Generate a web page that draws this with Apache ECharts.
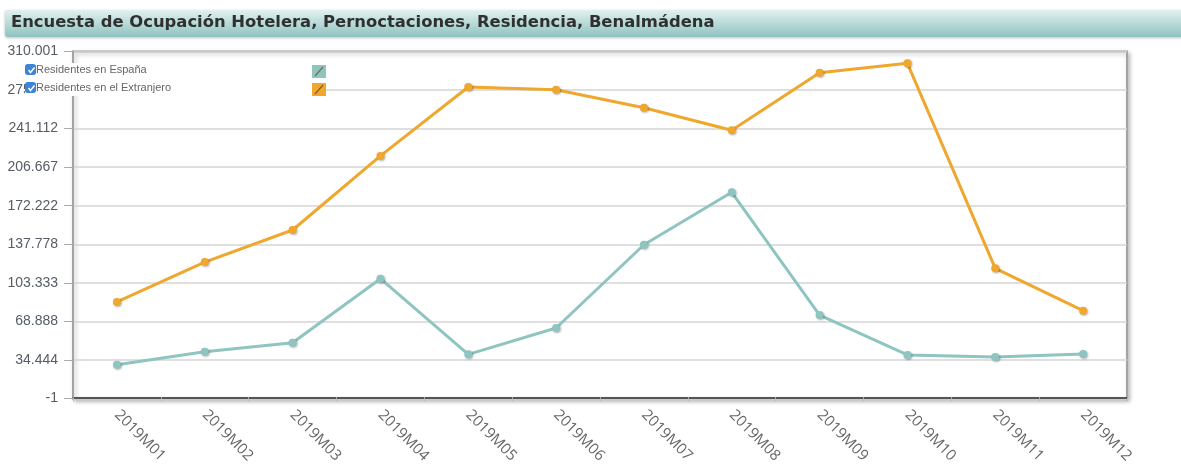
<!DOCTYPE html>
<html>
<head>
<meta charset="utf-8">
<script src="https://cdn.jsdelivr.net/npm/echarts@6/dist/echarts.min.js"></script>
<style>
  html, body { margin: 0; padding: 0; background: #fff; }
  #chart { width: 1181px; height: 471px; }
</style>
</head>
<body>
<div id="chart"></div>
<script>
// datos
var meses = ['2019M01','2019M02','2019M03','2019M04','2019M05','2019M06','2019M07','2019M08','2019M09','2019M10','2019M11','2019M12'];
var espana = [29.3, 40.9, 49.0, 106.4, 38.6, 62.2, 136.8, 183.8, 73.8, 38.0, 36.2, 38.9];
var extranjero = [85.5, 121.3, 150.0, 216.4, 278.2, 275.8, 259.6, 239.4, 291.0, 299.4, 115.7, 77.7];
var yTicks = ['-1','34.444','68.888','103.333','137.778','172.222','206.667','241.112','275.556','310.001'];
var yMin = -1, yMax = 310.001;

var colEsp = '#8ec5c0';
var colExt = '#efa72e';

var chart = echarts.init(document.getElementById('chart'));
var interval = (yMax - yMin) / 9;

var option = {
  animation: false,
  title: {
    text: 'Encuesta de Ocupación Hotelera, Pernoctaciones, Residencia, Benalmádena',
    left: 11, top: 15,
    padding: 0,
    textStyle: { fontFamily: 'DejaVu Sans', fontWeight: 'bold', fontSize: 16.4, color: '#2f3030' }
  },
  graphic: [
    {
      // barra del titulo
      type: 'rect', z: -1,
      shape: { x: 5, y: 10, width: 1190, height: 27, r: 3 },
      style: {
        fill: new echarts.graphic.LinearGradient(0, 0, 0, 1, [
          { offset: 0, color: '#e1f1ef' },
          { offset: 1, color: '#8ec3c0' }
        ]),
        shadowBlur: 3, shadowColor: 'rgba(0,0,0,0.25)', shadowOffsetY: 1
      }
    },
    // muestras de color de la leyenda
    { type: 'rect', z: 100, shape: { x: 312, y: 65, width: 14, height: 13 }, style: { fill: colEsp } },
    { type: 'line', z: 101, shape: { x1: 315, y1: 76, x2: 323, y2: 67 }, style: { stroke: '#7a6a50', lineWidth: 1.2 } },
    { type: 'rect', z: 100, shape: { x: 312, y: 83, width: 14, height: 13 }, style: { fill: colExt } },
    { type: 'line', z: 101, shape: { x1: 315, y1: 94, x2: 323, y2: 85 }, style: { stroke: '#8a5a20', lineWidth: 1.2 } },
    // marcas de los checkbox
    { type: 'polyline', z: 101, shape: { points: [[28.5, 70], [30.5, 72.5], [34.5, 67.5]] }, style: { stroke: '#fff', lineWidth: 1.5, fill: null } },
    { type: 'polyline', z: 101, shape: { points: [[28.5, 88], [30.5, 90.5], [34.5, 85.5]] }, style: { stroke: '#fff', lineWidth: 1.5, fill: null } }
  ],
  legend: {
    orient: 'vertical',
    left: 25, top: 63,
    padding: [1, 155, 3, 0],
    itemGap: 7,
    itemWidth: 11, itemHeight: 11,
    backgroundColor: '#fff',
    icon: 'roundRect',
    selectedMode: false,
    textStyle: { fontSize: 11, color: '#666', fontFamily: 'Liberation Sans', padding: [0, 0, 0, -5] },
    data: [
      { name: 'Residentes en España', itemStyle: { color: '#3d84d6' } },
      { name: 'Residentes en el Extranjero', itemStyle: { color: '#3d84d6' } }
    ]
  },
  grid: {
    left: 73, right: 54, top: 51.5, bottom: 72.5,
    show: true,
    backgroundColor: '#fff',
    borderColor: '#a3a3a3',
    borderWidth: 2,
    shadowBlur: 4, shadowColor: 'rgba(0,0,0,0.25)', shadowOffsetX: 2, shadowOffsetY: 2
  },
  xAxis: {
    type: 'category',
    data: meses,
    boundaryGap: true,
    axisLine: { lineStyle: { color: '#555', width: 2 } },
    axisTick: { show: true, length: 4, lineStyle: { color: '#bbb' } },
    axisLabel: { rotate: -45, margin: 14, fontSize: 15, color: '#666', fontFamily: 'Open Sans' },
    splitLine: { show: false }
  },
  yAxis: {
    type: 'value',
    min: yMin, max: yMax, interval: interval,
    axisLine: { show: true, lineStyle: { color: '#a3a3a3', width: 2 } },
    axisTick: { show: true, length: 9, lineStyle: { color: '#aaa' } },
    axisLabel: {
      fontSize: 14, color: '#555c66', fontFamily: 'Liberation Sans', margin: 15,
      formatter: function (v) {
        var i = Math.round((v - yMin) / interval);
        return yTicks[i];
      }
    },
    splitLine: { show: true, lineStyle: { color: '#d4d4d4', width: 1.5 } }
  },
  series: [
    {
      name: 'Residentes en España',
      type: 'line',
      data: espana,
      color: colEsp,
      symbol: 'circle', symbolSize: 8,
      lineStyle: { width: 3 },
      itemStyle: { shadowBlur: 2, shadowColor: 'rgba(0,0,0,0.3)', shadowOffsetX: 1, shadowOffsetY: 1 }
    },
    {
      name: 'Residentes en el Extranjero',
      type: 'line',
      data: extranjero,
      color: colExt,
      symbol: 'circle', symbolSize: 8,
      lineStyle: { width: 3 },
      itemStyle: { shadowBlur: 2, shadowColor: 'rgba(0,0,0,0.3)', shadowOffsetX: 1, shadowOffsetY: 1 }
    }
  ]
};
chart.setOption(option);
</script>
</body>
</html>
